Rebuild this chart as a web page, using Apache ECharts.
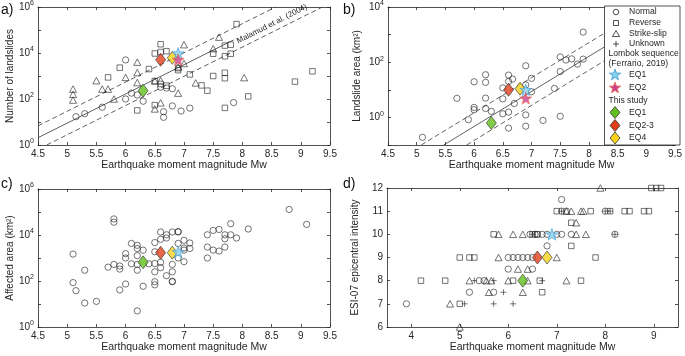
<!DOCTYPE html>
<html>
<head>
<meta charset="utf-8">
<script src="https://cdn.jsdelivr.net/npm/echarts@6/dist/echarts.min.js"></script>
<style>
    html, body { margin: 0; padding: 0; background: #fff; }
    #main { width: 685px; height: 356px; }
</style>
</head>
<body>
<div id="main"></div>
<script>
    // a) number of landslides
    var aNormal = [[5.15,17],[5.3,23],[5.6,44],[6.0,5000],[6.0,100],[6.1,180],[6.2,150],[6.3,80],[6.6,330],[6.7,300],[6.8,280],[6.65,28],[6.65,16],[6.8,50],[6.95,30],[7.1,40],[7.85,70]]
    var aReverse = [[5.7,870],[5.9,2300],[6.2,32],[6.4,2000],[6.5,9500],[6.6,24000],[6.6,11000],[6.7,12000],[6.5,54],[6.5,600],[6.6,450],[6.7,380],[6.9,1800],[6.9,2200],[7.1,1170],[7.3,390],[7.4,230],[7.5,1000],[7.5,9300],[7.7,21000],[7.8,23000],[7.7,7200],[7.8,9300],[7.7,1380],[7.7,800],[7.7,41],[8.1,130],[8.9,570],[9.2,1600],[7.9,180000]]
    var aStrike = [[5.1,270],[5.1,160],[5.1,90],[5.5,630],[5.6,270],[5.7,270],[5.8,100],[6.0,870],[6.2,4000],[6.2,1400],[6.2,520],[6.5,610],[6.6,630],[6.6,68],[6.5,37],[6.9,180],[6.9,2500],[7.0,3500],[7.0,23000],[7.2,500],[7.5,15500],[7.6,49000],[8.03,850]]
    var aStudy = [[6.3,230],[6.6,5100],[6.8,6200]]      // EQ1, EQ2-3, EQ4
    var aLombok = [[6.9,9800],[6.9,5100]]               // EQ1, EQ2
    // Malamud et al. (2004) fit and bounds, end points
    var aFit = [[4.5,2.07],[7.85,37000]]
    var aFitUp = [[4.5,6.8],[8.57,1000000]]
    var aFitLow = [[4.65,1],[9.37,1000000]]

    // b) landslide area
    var bNormal = [[5.1,0.19],[5.7,4.9],[5.9,0.83],[6.0,19.5],[6.0,2.3],[6.0,1.9],[6.2,35],[6.2,18.6],[6.2,5.0],[6.2,2.1],[6.3,1.66],[6.5,11.7],[6.5,4.7],[6.5,1.35],[6.6,34],[6.6,20],[6.6,1.55],[6.6,0.41],[6.67,24.5],[6.7,3.2],[6.9,74],[6.9,15],[7.0,26],[7.0,8.5],[6.9,1.23],[6.9,0.48],[7.2,0.78],[7.4,11.2],[7.5,155],[7.5,46],[7.5,1.1],[7.6,120],[7.7,132],[7.8,85],[7.9,129],[7.9,1230]]
    var bStudy = [[6.3,0.63],[6.6,10],[6.8,11]]
    var bLombok = [[6.9,10],[6.9,4.9]]
    var bFit = [[5.47,0.1],[8.3,390]]
    var bFitUp = [[5.08,0.1],[8.3,1230]]
    var bFitLow = [[5.87,0.1],[8.3,123]]

    // c) affected area
    var cNormal = [[5.1,1480],[5.1,85],[5.15,38],[5.3,295],[5.3,11],[5.5,13],[5.7,400],[5.8,525],[5.8,50000],[5.8,36000],[5.9,450],[5.9,330],[5.9,41],[6.0,1550],[6.0,1000],[6.0,74],[6.1,560],[6.1,4300],[6.2,3550],[6.2,2570],[6.2,1260],[6.2,525],[6.2,295],[6.2,5],[6.3,2190],[6.3,59],[6.4,560],[6.5,4700],[6.5,1860],[6.5,575],[6.5,250],[6.5,93],[6.5,68],[6.6,13500],[6.6,6500],[6.6,650],[6.6,380],[6.7,10200],[6.7,7400],[6.7,170],[6.8,13500],[6.8,525],[6.8,250],[6.8,93],[6.8,97],[6.9,14100],[6.9,13500],[6.9,4300],[6.9,1000],[7.0,5900],[7.0,2700],[7.0,2200],[7.0,690],[7.1,4500],[7.1,2600],[7.4,10200],[7.4,3000],[7.4,1000],[7.5,15800],[7.5,2200],[7.6,17400],[7.6,2000],[7.7,10200],[7.7,6900],[7.7,3000],[7.8,31000],[7.8,10200],[7.9,7400],[8.1,18200],[8.8,129000],[9.1,29000]]
    var cStudy = [[6.3,650],[6.6,1700],[6.8,1700]]
    var cLombok = [[6.9,1850]]

    // d) ESI-07 epicentral intensity
    var dNormal = [[3.9,7],[5.2,7.5],[5.7,7.5],[5.4,8],[5.5,8],[6.0,8.5],[6.5,8.5],[6.0,9],[6.1,9],[6.2,9],[6.3,9],[6.4,9],[6.5,9],[6.8,9.5],[6.45,10],[6.55,10],[6.6,10],[6.7,10],[6.8,10],[7.0,10],[7.1,10],[7.3,10],[7.1,11.5],[7.1,11],[7.2,11],[8.0,11],[8.2,10]]
    var dReverse = [[4.2,8],[4.7,8],[5.0,7],[5.0,9],[5.2,9],[5.3,9],[5.7,10],[6.1,8],[6.65,8],[6.7,7.5],[6.5,10],[6.6,10],[7.0,11],[7.3,10.5],[7.3,9.5],[7.5,8],[7.7,11],[7.8,9],[8.1,11],[8.4,11],[8.5,11],[8.8,11],[8.9,11],[8.95,12],[9.05,12],[9.15,12]]
    var dStrike = [[4.8,7],[5.0,6],[5.2,8],[5.55,8],[5.65,8],[5.6,7.5],[5.8,9],[5.8,10],[6.0,8],[6.1,10],[6.3,10],[6.2,8.5],[6.4,8.5],[6.3,7.5],[6.4,8],[7.0,9],[7.2,8],[7.2,11],[7.3,11],[7.4,10.5],[7.4,10],[7.5,11],[7.55,11],[7.6,10],[7.9,12]]
    var dUnknown = [[5.1,7],[5.7,7],[6.1,7],[5.9,7.5],[5.3,8],[5.7,8],[6.7,8],[6.5,10],[7.1,11],[8.0,11],[8.1,11],[8.2,10]]
    var dStudy = [[6.3,8],[6.6,9],[6.8,9]]
    var dLombok = [[6.9,10]]

    var mwTicks = [4.5,5,5.5,6,6.5,7,7.5,8,8.5,9,9.5]
    var dMwTicks = [4,5,6,7,8,9]

    var FONT = '"Liberation Sans", Arial, Helvetica, sans-serif'
    var INK = '#262626'
    var STAR = 'path://M100,0 L123.5,67.6 L195.1,69.1 L138,112.4 L158.8,180.9 L100,140 L41.2,180.9 L62,112.4 L4.9,69.1 L76.5,67.6 Z'
    var PLUS = 'path://M5,0 L5,10 M0,5 L10,5'
    var studyColors = ['#62c01c', '#e2401c', '#f6d21a']
    var lombokFill = ['#86d0ee', '#c8408e']
    var lombokEdge = ['#3d9ad6', '#f06a4a']

    var grids = [
        {left: 38, top: 6, width: 292, height: 139},
        {left: 388, top: 6, width: 292, height: 139},
        {left: 38, top: 189, width: 292, height: 138},
        {left: 387, top: 188, width: 291, height: 139}
    ]

    var xAxes = []
    var yAxes = []
    var series = []

    function powLabel(v) {
        return '{b|10}{s|' + Math.round(Math.log10(v)) + '}'
    }

    //每个面板：底/左坐标轴 + 顶/右只画刻度
    function addAxes(gi, x, y) {
        var tick = {inside: true, length: 3, lineStyle: {color: INK, width: 0.8}}
        var line = {lineStyle: {color: INK, width: 0.8}}
        var xBase = {type: 'value', gridIndex: gi, min: x.min, max: x.max, splitLine: {show: false}}
        xAxes.push(Object.assign({}, xBase, {
            position: 'bottom',
            name: 'Earthquake moment magnitude Mw',
            nameLocation: 'middle',
            nameGap: x.nameGap,
            nameTextStyle: {fontFamily: FONT, fontSize: 10.5, color: INK},
            axisLine: line,
            axisTick: Object.assign({customValues: x.ticks}, tick),
            axisLabel: {customValues: x.ticks, fontFamily: FONT, fontSize: 10, color: INK, margin: 4}
        }))
        xAxes.push(Object.assign({}, xBase, {
            position: 'top',
            axisLine: line,
            axisTick: Object.assign({customValues: x.ticks}, tick),
            axisLabel: {show: false}
        }))
        var yBase = {type: y.type, gridIndex: gi, min: y.min, max: y.max, splitLine: {show: false}}
        if (y.type === 'log') yBase.logBase = 10
        var lab = {customValues: y.labels, fontFamily: FONT, fontSize: 10, color: INK, margin: 4}
        if (y.type === 'log') {
            lab.formatter = powLabel
            lab.rich = {
                b: {fontFamily: FONT, fontSize: 10, color: INK},
                s: {fontFamily: FONT, fontSize: 7, color: INK, padding: [0, 0, 7, 0]}
            }
        }
        yAxes.push(Object.assign({}, yBase, {
            position: 'left',
            name: y.name,
            nameLocation: 'middle',
            nameGap: y.nameGap,
            nameTextStyle: {fontFamily: FONT, fontSize: 10, color: INK},
            axisLine: line,
            axisTick: Object.assign({customValues: y.ticks}, tick),
            axisLabel: lab
        }))
        yAxes.push(Object.assign({}, yBase, {
            position: 'right',
            axisLine: line,
            axisTick: Object.assign({customValues: y.ticks}, tick),
            axisLabel: {show: false}
        }))
    }

    function scatter(gi, data, kind, k) {
        var s = {
            type: 'scatter', xAxisIndex: gi * 2, yAxisIndex: gi * 2, data: data,
            silent: true, clip: false, z: 2,
            itemStyle: {color: 'rgba(255,255,255,0)', borderColor: INK, borderWidth: 0.8}
        }
        if (kind === 'normal') { s.symbol = 'circle'; s.symbolSize = 6.3 }
        if (kind === 'reverse') { s.symbol = 'rect'; s.symbolSize = 5.5 }
        if (kind === 'strike') { s.symbol = 'triangle'; s.symbolSize = [7, 6.5] }
        if (kind === 'unknown') { s.symbol = PLUS; s.symbolSize = 6 }
        if (kind === 'study') {
            s.symbol = 'diamond'; s.symbolSize = [10, 13]; s.z = 4
            s.itemStyle = {color: studyColors[k], borderColor: '#333', borderWidth: 0.8}
        }
        if (kind === 'lombok') {
            s.symbol = STAR; s.symbolSize = [12, 11.5]; s.z = 5
            s.itemStyle = {color: lombokFill[k], borderColor: lombokEdge[k], borderWidth: 0.8}
        }
        series.push(s)
    }

    function fitLine(gi, data, dashed) {
        series.push({
            type: 'line', xAxisIndex: gi * 2, yAxisIndex: gi * 2, data: data,
            silent: true, showSymbol: false, symbol: 'none', z: 1,
            lineStyle: {color: '#3a3a3a', width: 0.8, type: dashed ? [5, 3] : 'solid'}
        })
    }

    function addMarks(gi, study, lombok) {
        study.forEach(function (p, k) { scatter(gi, [p], 'study', k) })
        lombok.forEach(function (p, k) { scatter(gi, [p], 'lombok', k) })
    }

    addAxes(0, {min: 4.5, max: 9.5, ticks: mwTicks, nameGap: 14},
        {type: 'log', min: 1, max: 1e6, ticks: [1,10,100,1e3,1e4,1e5,1e6], labels: [1,100,1e4,1e6], name: 'Number of landslides', nameGap: 21})
    addAxes(1, {min: 4.5, max: 9.5, ticks: mwTicks, nameGap: 14},
        {type: 'log', min: 0.1, max: 1e4, ticks: [0.1,1,10,100,1e3,1e4], labels: [1,100,1e4], name: 'Landslide area (km²)', nameGap: 26})
    addAxes(2, {min: 4.5, max: 9.5, ticks: mwTicks, nameGap: 13},
        {type: 'log', min: 1, max: 1e6, ticks: [1,10,100,1e3,1e4,1e5,1e6], labels: [1,100,1e4,1e6], name: 'Affected area (km²)', nameGap: 20})
    addAxes(3, {min: 3.5, max: 9.5, ticks: dMwTicks, nameGap: 13},
        {type: 'value', min: 6, max: 12, ticks: [6,7,8,9,10,11,12], labels: [6,7,8,9,10,11,12], name: 'ESI-07 epicentral intensity', nameGap: 27})

    fitLine(0, aFit, false)
    fitLine(0, aFitUp, true)
    fitLine(0, aFitLow, true)
    scatter(0, aNormal, 'normal')
    scatter(0, aReverse, 'reverse')
    scatter(0, aStrike, 'strike')
    addMarks(0, aStudy, aLombok)

    fitLine(1, bFit, false)
    fitLine(1, bFitUp, true)
    fitLine(1, bFitLow, true)
    scatter(1, bNormal, 'normal')
    addMarks(1, bStudy, bLombok)

    scatter(2, cNormal, 'normal')
    addMarks(2, cStudy, cLombok)

    scatter(3, dNormal, 'normal')
    scatter(3, dReverse, 'reverse')
    scatter(3, dStrike, 'strike')
    scatter(3, dUnknown, 'unknown')
    addMarks(3, dStudy, dLombok)

    //图例（b 面板内）
    function starPts(cx, cy, r) {
        var pts = []
        for (var i = 0; i < 10; i++) {
            var rr = i % 2 ? r * 0.4 : r
            var a = -Math.PI / 2 + i * Math.PI / 5
            pts.push([cx + rr * Math.cos(a), cy + rr * Math.sin(a)])
        }
        return pts
    }
    var LX = 616, TX = 629
    var stroke = {fill: 'none', stroke: INK, lineWidth: 0.8}
    function legText(x, y, t) {
        return {type: 'text', x: x, y: y, z: 102, style: {text: t, font: '8.6px ' + FONT, fill: INK, verticalAlign: 'middle'}}
    }
    var legend = [
        {type: 'rect', z: 100, shape: {x: 604.5, y: 6, width: 75.5, height: 139}, style: {fill: '#fff', stroke: INK, lineWidth: 0.8}},
        {type: 'circle', z: 101, shape: {cx: LX, cy: 12, r: 2.8}, style: stroke},
        legText(TX, 12, 'Normal'),
        {type: 'rect', z: 101, shape: {x: LX - 2.5, y: 20.5, width: 5, height: 5}, style: stroke},
        legText(TX, 23, 'Reverse'),
        {type: 'polygon', z: 101, shape: {points: [[LX, 30.5], [LX + 3.5, 36.5], [LX - 3.5, 36.5]]}, style: stroke},
        legText(TX, 34, 'Strike-slip'),
        {type: 'line', z: 101, shape: {x1: LX - 3, y1: 44, x2: LX + 3, y2: 44}, style: stroke},
        {type: 'line', z: 101, shape: {x1: LX, y1: 41, x2: LX, y2: 47}, style: stroke},
        legText(TX, 44, 'Unknown'),
        legText(608.5, 54, 'Lombok sequence'),
        legText(608.5, 64, '(Ferrario, 2019)'),
        {type: 'polygon', z: 101, shape: {points: starPts(LX - 1, 75, 6)}, style: {fill: lombokFill[0], stroke: lombokEdge[0], lineWidth: 0.8}},
        legText(TX, 75, 'EQ1'),
        {type: 'polygon', z: 101, shape: {points: starPts(LX - 1, 88, 6)}, style: {fill: lombokFill[1], stroke: lombokEdge[1], lineWidth: 0.8}},
        legText(TX, 88, 'EQ2'),
        legText(608.5, 100.5, 'This study'),
        legText(TX, 112.5, 'EQ1'),
        legText(TX, 125.5, 'EQ2-3'),
        legText(TX, 138, 'EQ4')
    ]
    ;[112.5, 125.5, 138].forEach(function (cy, k) {
        legend.push({type: 'polygon', z: 101, shape: {points: [[LX - 1, cy - 6], [LX + 4, cy], [LX - 1, cy + 6], [LX - 6, cy]]},
            style: {fill: studyColors[k], stroke: '#333', lineWidth: 0.8}})
    })

    var panelLabels = [['a)', 1, 3], ['b)', 343, 3], ['c)', 1, 177], ['d)', 343, 177]].map(function (p) {
        return {type: 'text', x: p[1], y: p[2], style: {text: p[0], font: '14px ' + FONT, fill: '#111'}}
    })

    var option = {
        animation: false,
        grid: grids,
        xAxis: xAxes,
        yAxis: yAxes,
        series: series,
        graphic: {
            elements: legend.concat(panelLabels).concat([
                {type: 'text', x: 272, y: 24, rotation: 0.47, z: 50,
                    style: {text: 'Malamud et al. (2004)', font: '8px ' + FONT, fill: INK, align: 'center', verticalAlign: 'middle'}}
            ])
        }
    }

    var chart = echarts.init(document.getElementById('main'), null, {renderer: 'canvas'})
    chart.setOption(option)
    window.addEventListener('resize', function () { chart.resize() })
</script>
</body>
</html>
